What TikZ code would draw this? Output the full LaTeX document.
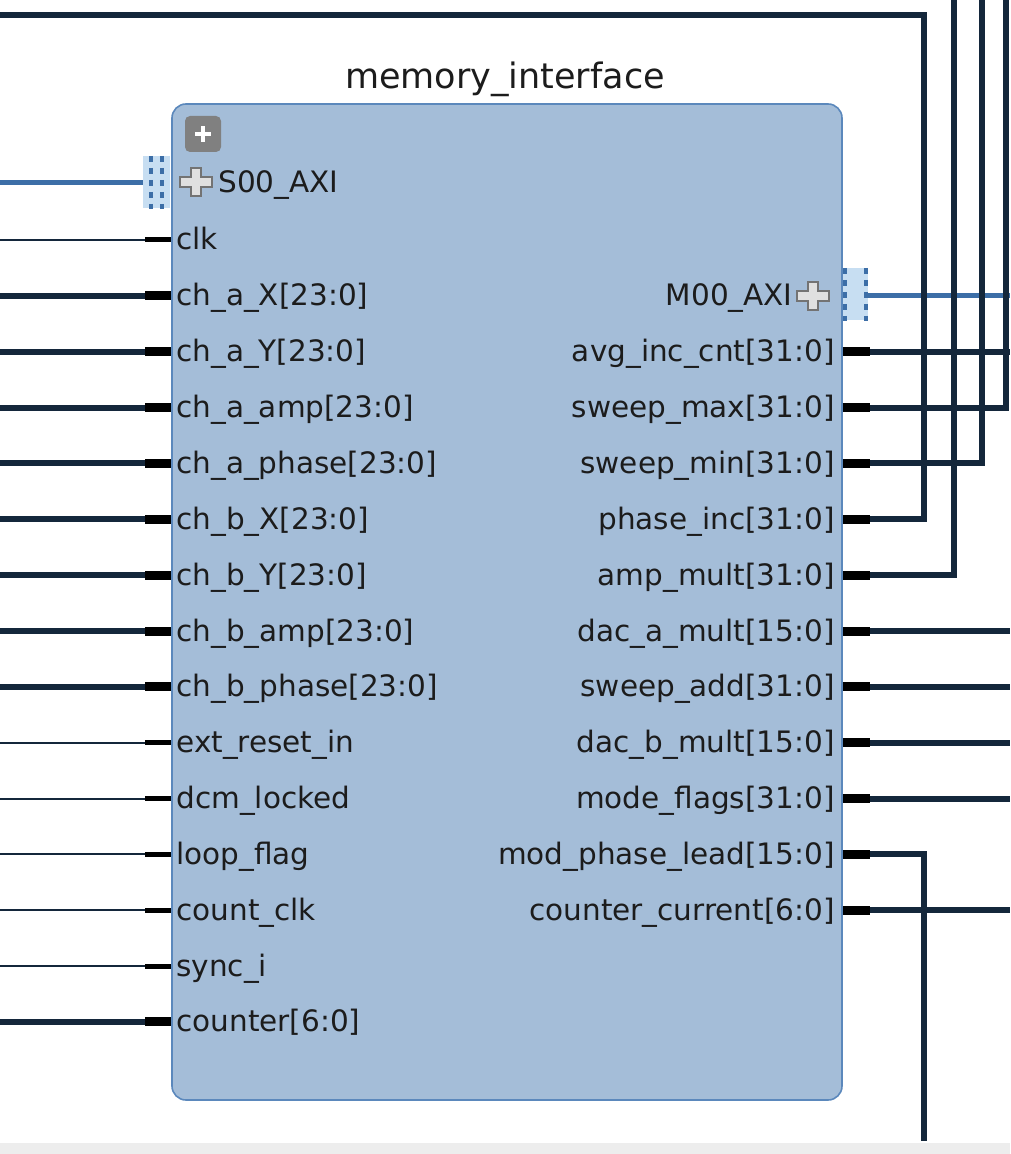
\documentclass[tikz,border=0pt]{standalone}
\usepackage{fontspec}
\setmainfont{DejaVu Sans}
\usetikzlibrary{positioning}
\definecolor{blockfill}{HTML}{A4BDD8}
\definecolor{blockline}{HTML}{5B88BC}
\definecolor{wirecol}{HTML}{14273B}
\definecolor{ifblue}{HTML}{3C6EA7}
\definecolor{iffill}{HTML}{C7DEF2}
\definecolor{labeltext}{HTML}{1C1C1C}
\tikzset{
  block/.style={draw=blockline, line width=0.8pt, fill=blockfill, rounded corners=7pt, inner sep=0pt},
  pinlabel/.style={font=\fontsize{14.75}{17}\selectfont, text=labeltext, inner sep=0pt},
  titlelabel/.style={font=\fontsize{17.5}{20}\selectfont, text=labeltext, inner sep=0pt},
  bus/.style={draw=wirecol, line width=3pt},
  net/.style={draw=wirecol, line width=1pt},
  busstub/.style={draw=black, line width=4.5pt},
  netstub/.style={draw=black, line width=2.5pt},
  axiwire/.style={draw=ifblue, line width=2.5pt},
  ifbox/.style={fill=iffill, inner sep=0pt},
  ifdots/.style={draw=ifblue, line width=2pt, dash pattern=on 3pt off 3pt},
  crossicon/.style={draw=black!55, fill=black!12, line width=0.8pt},
  plusbtn/.style={fill=black!50, rounded corners=2.5pt, inner sep=0pt, minimum size=18pt}
}
\begin{document}
\begin{tikzpicture}[x=0.5pt,y=-0.5pt,line cap=butt,line join=miter]
  \useasboundingbox (0,0) rectangle (1010,1154);
  \clip (0,0) rectangle (1010,1154);
  \fill[black!7] (0,1143) rectangle (1010,1154);

  % picture edges for the free ends
  \coordinate (edgeL) at (0,0);
  \coordinate (edgeR) at (1010,0);

  % the block
  \node[block, minimum width=335pt, minimum height=498pt] (mem) at (507,602) {};
  \node[titlelabel, anchor=base] (title) at (505,89) {memory\_interface};
  \node[plusbtn] (expand) at (203,134) {};
  \draw[white, line width=1.6pt] ([xshift=-4pt]expand.center) -- ([xshift=4pt]expand.center);
  \draw[white, line width=1.6pt] ([yshift=-4pt]expand.center) -- ([yshift=4pt]expand.center);

  % left pins
  \coordinate (s00) at (143,183);
  \coordinate (clk) at (145,240);
  \coordinate (chaX) at (145,295.9);
  \coordinate (chaY) at (145,351.7);
  \coordinate (chaamp) at (145,407.6);
  \coordinate (chaphase) at (145,463.4);
  \coordinate (chbX) at (145,519.3);
  \coordinate (chbY) at (145,575.1);
  \coordinate (chbamp) at (145,631.0);
  \coordinate (chbphase) at (145,686.8);
  \coordinate (extreset) at (145,742.7);
  \coordinate (dcmlocked) at (145,798.5);
  \coordinate (loopflag) at (145,854.4);
  \coordinate (countclk) at (145,910.2);
  \coordinate (synci) at (145,966.1);
  \coordinate (counter) at (145,1021.9);

  \node[pinlabel, anchor=base west] (s00-l) at (218,193) {S00\_AXI};
  \node[pinlabel, anchor=base west] (clk-l) at (176,250) {clk};
  \node[pinlabel, anchor=base west] (chaX-l) at (176,305.9) {ch\_a\_X[23:0]};
  \node[pinlabel, anchor=base west] (chaY-l) at (176,361.7) {ch\_a\_Y[23:0]};
  \node[pinlabel, anchor=base west] (chaamp-l) at (176,417.6) {ch\_a\_amp[23:0]};
  \node[pinlabel, anchor=base west] (chaphase-l) at (176,473.4) {ch\_a\_phase[23:0]};
  \node[pinlabel, anchor=base west] (chbX-l) at (176,529.3) {ch\_b\_X[23:0]};
  \node[pinlabel, anchor=base west] (chbY-l) at (176,585.1) {ch\_b\_Y[23:0]};
  \node[pinlabel, anchor=base west] (chbamp-l) at (176,641.0) {ch\_b\_amp[23:0]};
  \node[pinlabel, anchor=base west] (chbphase-l) at (176,696.8) {ch\_b\_phase[23:0]};
  \node[pinlabel, anchor=base west] (extreset-l) at (176,752.7) {ext\_reset\_in};
  \node[pinlabel, anchor=base west] (dcmlocked-l) at (176,808.5) {dcm\_locked};
  \node[pinlabel, anchor=base west] (loopflag-l) at (176,864.4) {loop\_flag};
  \node[pinlabel, anchor=base west] (countclk-l) at (176,920.2) {count\_clk};
  \node[pinlabel, anchor=base west] (synci-l) at (176,976.1) {sync\_i};
  \node[pinlabel, anchor=base west] (counter-l) at (176,1031.9) {counter[6:0]};

  % S00_AXI interface
  \draw[axiwire] (s00 -| edgeL) -- (s00);
  \node[ifbox, minimum width=13.5pt, minimum height=26pt] (s00if) at (156.5,182) {};
  \draw[ifdots] (151,156) -- (151,209);
  \draw[ifdots] (162,156) -- (162,209);
  \draw[crossicon, shift={(196,182)}] (-5,-14) -- (5,-14) -- (5,-5) -- (16,-5) -- (16,5) -- (5,5) -- (5,14) -- (-5,14) -- (-5,5) -- (-16,5) -- (-16,-5) -- (-5,-5) -- cycle;

  % left stubs and wires
  \draw[netstub] (clk) -- (clk -| mem.west);
  \draw[net] (clk -| edgeL) -- (clk);
  \foreach \p in {chaX,chaY,chaamp,chaphase,chbX,chbY,chbamp,chbphase,counter}{
    \draw[busstub] (\p) -- (\p -| mem.west);
    \draw[bus] (\p -| edgeL) -- (\p);
  }
  \foreach \p in {extreset,dcmlocked,loopflag,countclk,synci}{
    \draw[netstub] (\p) -- (\p -| mem.west);
    \draw[net] (\p -| edgeL) -- (\p);
  }

  % right pins
  \coordinate (m00) at (868,295.9);
  \coordinate (avginc) at (870,351.7);
  \coordinate (sweepmax) at (870,407.6);
  \coordinate (sweepmin) at (870,463.4);
  \coordinate (phaseinc) at (870,519.3);
  \coordinate (ampmult) at (870,575.1);
  \coordinate (dacamult) at (870,631.0);
  \coordinate (sweepadd) at (870,686.8);
  \coordinate (dacbmult) at (870,742.7);
  \coordinate (modeflags) at (870,798.5);
  \coordinate (modphase) at (870,854.4);
  \coordinate (countercur) at (870,910.2);

  \node[pinlabel, anchor=base east] (m00-l) at (793,305.9) {M00\_AXI};
  \node[pinlabel, anchor=base east] (avginc-l) at (835,361.7) {avg\_inc\_cnt[31:0]};
  \node[pinlabel, anchor=base east] (sweepmax-l) at (835,417.6) {sweep\_max[31:0]};
  \node[pinlabel, anchor=base east] (sweepmin-l) at (835,473.4) {sweep\_min[31:0]};
  \node[pinlabel, anchor=base east] (phaseinc-l) at (835,529.3) {phase\_inc[31:0]};
  \node[pinlabel, anchor=base east] (ampmult-l) at (835,585.1) {amp\_mult[31:0]};
  \node[pinlabel, anchor=base east] (dacamult-l) at (835,641.0) {dac\_a\_mult[15:0]};
  \node[pinlabel, anchor=base east] (sweepadd-l) at (835,696.8) {sweep\_add[31:0]};
  \node[pinlabel, anchor=base east] (dacbmult-l) at (835,752.7) {dac\_b\_mult[15:0]};
  \node[pinlabel, anchor=base east] (modeflags-l) at (835,808.5) {mode\_flags[31:0]};
  \node[pinlabel, anchor=base east] (modphase-l) at (835,864.4) {mod\_phase\_lead[15:0]};
  \node[pinlabel, anchor=base east] (countercur-l) at (835,920.2) {counter\_current[6:0]};

  % M00_AXI interface
  \draw[axiwire] (m00) -- (m00 -| edgeR);
  \node[ifbox, minimum width=12.5pt, minimum height=26pt] (m00if) at (855.5,294) {};
  \draw[ifdots] (845,268) -- (845,321);
  \draw[ifdots] (866,268) -- (866,321);
  \draw[crossicon, shift={(813,296)}] (-5,-14) -- (5,-14) -- (5,-5) -- (16,-5) -- (16,5) -- (5,5) -- (5,14) -- (-5,14) -- (-5,5) -- (-16,5) -- (-16,-5) -- (-5,-5) -- cycle;

  % right stubs
  \foreach \p in {avginc,sweepmax,sweepmin,phaseinc,ampmult,dacamult,sweepadd,dacbmult,modeflags,modphase,countercur}{
    \draw[busstub] (\p -| mem.east) -- (\p);
  }

  % turn points of the routed buses
  \coordinate (topbend) at (924,15);
  \coordinate (modend) at (924,1141);

  \draw[bus] (avginc) -- (avginc -| edgeR);
  \draw[bus] (sweepmax) -| (1006,0);
  \draw[bus] (sweepmin) -| (982,0);
  \draw[bus] (phaseinc) -| (topbend) -- (topbend -| edgeL);
  \draw[bus] (ampmult) -| (954,0);
  \draw[bus] (dacamult) -- (dacamult -| edgeR);
  \draw[bus] (sweepadd) -- (sweepadd -| edgeR);
  \draw[bus] (dacbmult) -- (dacbmult -| edgeR);
  \draw[bus] (modeflags) -- (modeflags -| edgeR);
  \draw[bus] (modphase) -| (modend);
  \draw[bus] (countercur) -- (countercur -| edgeR);
\end{tikzpicture}
\end{document}
